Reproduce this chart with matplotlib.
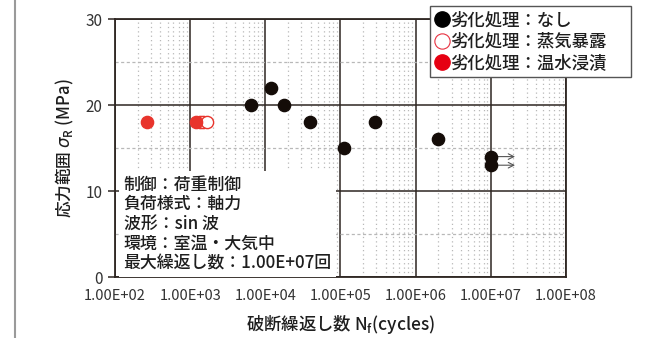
import matplotlib
matplotlib.use("Agg")
import matplotlib.pyplot as plt
from matplotlib.lines import Line2D
from matplotlib.ticker import LogLocator, FixedLocator, NullFormatter

plt.rcParams['font.family'] = ['Noto Sans CJK JP', 'DejaVu Sans']

# 劣化処理：なし
none_n = [6.4e3, 1.19e4, 1.77e4, 3.9e4, 1.11e5, 2.87e5, 1.97e6, 1.0e7, 1.0e7]
none_s = [20, 22, 20, 18, 15, 18, 16, 14, 13]
# 劣化処理：蒸気暴露
steam_n = [1.35e3, 1.48e3, 1.67e3]
steam_s = [18, 18, 18]
# 劣化処理：温水浸漬
water_n = [2.67e2, 1.19e3]
water_s = [18, 18]
# runouts (no failure at 1e7 cycles)
runout_n = [1.0e7, 1.0e7]
runout_s = [14, 13]

xtick_vals = [1e2, 1e3, 1e4, 1e5, 1e6, 1e7, 1e8]
xtick_labels = ["1.00E+02", "1.00E+03", "1.00E+04", "1.00E+05",
                "1.00E+06", "1.00E+07", "1.00E+08"]
ytick_vals = [0, 10, 20, 30]

legend_labels = ["劣化処理：なし", "劣化処理：蒸気暴露", "劣化処理：温水浸漬"]
cond_lines = ["制御：荷重制御", "負荷様式：軸力", "波形：sin 波",
              "環境：室温・大気中", "最大繰返し数：1.00E+07回"]

ink = "#2e2622"
black_pt = "#140c08"
red_pt = "#e8342c"
txt = "#1e1e1e"

fig = plt.figure(figsize=(6.59, 3.38), dpi=100)
ax = fig.add_axes([115/659, 1-277/338, 451/659, 258/338])

ax.set_xscale("log")
ax.set_xlim(1e2, 1e8)
ax.set_ylim(0, 30)

ax.xaxis.set_major_locator(FixedLocator(xtick_vals))
ax.set_xticklabels(xtick_labels)
ax.xaxis.set_minor_locator(LogLocator(base=10, subs=range(2, 10), numticks=20))
ax.xaxis.set_minor_formatter(NullFormatter())
ax.yaxis.set_major_locator(FixedLocator(ytick_vals))
ax.yaxis.set_minor_locator(FixedLocator([5, 15, 25]))

ax.grid(which="major", axis="x", color=ink, lw=1.1, ls="-")
ax.grid(which="major", axis="y", color=ink, lw=1.1, ls="-")
ax.grid(which="minor", axis="x", color="#b8b8b8", lw=0.9, ls=(0, (1, 2.5)))
ax.grid(which="minor", axis="y", color="#b8b8b8", lw=0.9, ls=(0, (2.5, 2)))
ax.set_axisbelow(True)

for s in ax.spines.values():
    s.set_color(ink)
    s.set_linewidth(1.3)

ax.tick_params(axis="x", which="both", length=0, pad=9, labelsize=10.5, colors="#333333")
ax.tick_params(axis="y", which="major", length=5, width=1.1, color=ink,
               direction="out", pad=4, labelsize=11, labelcolor="#333333")
ax.tick_params(axis="y", which="minor", length=0)

ms = 8.8
h_none, = ax.plot(none_n, none_s, "o", ms=ms, color=black_pt, mec=black_pt,
                  ls="none", zorder=4)
h_steam, = ax.plot(steam_n, steam_s, "o", ms=ms, mfc="white", mec=red_pt,
                   mew=1.0, ls="none", zorder=4)
h_water, = ax.plot(water_n, water_s, "o", ms=ms, color=red_pt, mec=red_pt,
                   ls="none", zorder=5)

for n, s in zip(runout_n, runout_s):
    ax.annotate("", xy=(n * 2.1, s), xytext=(n * 1.12, s),
                arrowprops=dict(arrowstyle="->", color="#555555", lw=0.8,
                                shrinkA=0, shrinkB=0), zorder=3)

ax.text(1.30e2, 0.55, "\n".join(cond_lines), ha="left", va="bottom",
        fontsize=12.2, fontweight="medium", color=txt, linespacing=1.12, zorder=6,
        bbox=dict(boxstyle="square,pad=0.25", fc="white", ec="none"))

ax.set_ylabel("応力範囲 $\\sigma_{\\mathregular{R}}$ (MPa)", fontsize=12,
              fontweight="medium", color=txt, labelpad=7)
ax.set_xlabel("破断繰返し数 N$_{\\mathregular{f}}$(cycles)", fontsize=12.5,
              fontweight="medium", color=txt, labelpad=7)

leg_handles = [
    Line2D([], [], marker="o", ls="none", ms=11, color="black"),
    Line2D([], [], marker="o", ls="none", ms=11, mfc="white", mec="#e83040", mew=0.8),
    Line2D([], [], marker="o", ls="none", ms=11, color="#e60012"),
]
leg = fig.legend(leg_handles, legend_labels, loc="upper left",
                 bbox_to_anchor=(430/659, 1-79/338, 201/659, 73/338),
                 bbox_transform=fig.transFigure, mode="expand",
                 borderaxespad=0, handlelength=0.8, handletextpad=0.05,
                 borderpad=0.3, labelspacing=0.2,
                 prop=dict(weight="medium", size=12.5),
                 fancybox=False, framealpha=1, edgecolor="#555555")
leg.get_frame().set_linewidth(1.0)
for t in leg.get_texts():
    t.set_color(txt)

fig.add_artist(Line2D([15/659, 15/659], [0, 1], color="#9a9a9a", lw=1.5,
                      transform=fig.transFigure))

fig.savefig("out.png", dpi=100)
